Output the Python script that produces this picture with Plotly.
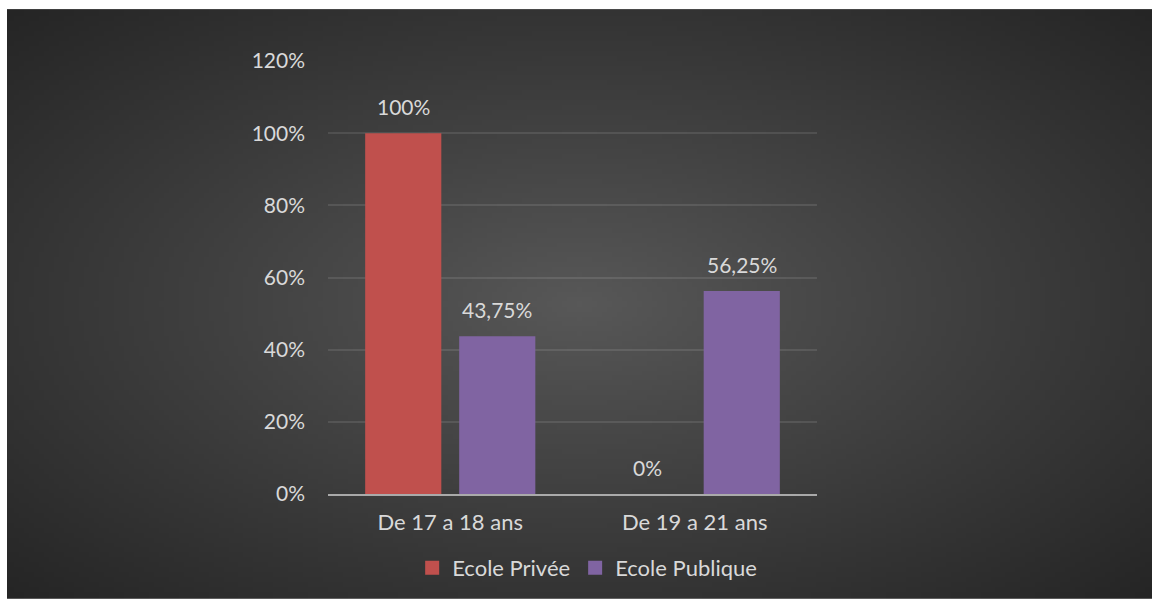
import base64
import math
import struct
import zlib

import plotly.graph_objects as go

# ---- data ----
categories = ["De 17 a 18 ans", "De 19 a 21 ans"]
series_names = ["Ecole Privée", "Ecole Publique"]
ecole_privee = [100, 0]
ecole_publique = [43.75, 56.25]
y_ticks = [0, 20, 40, 60, 80, 100, 120]

series_values = [ecole_privee, ecole_publique]
series_colors = ["#C0504D", "#8064A2"]

FONT = "Lato"
TEXT_COLOR = "#D9D9D9"

W, H = 1152, 600
ML, MR, MT, MB = 328, 335, 61, 105
PW, PH = W - ML - MR, H - MT - MB


def fmt_pct(v):
    return f"{v:g}".replace(".", ",") + "%"


def radial_png(w, h, c_in, c_out):
    """Small grayscale PNG with an elliptical radial gradient."""
    rows = []
    cx, cy = (w - 1) / 2, (h - 1) / 2
    for j in range(h):
        row = bytearray([0])
        dy = (j - cy) / cy
        for i in range(w):
            dx = (i - cx) / cx
            r = min(1.0, math.sqrt(dx * dx + dy * dy) / math.sqrt(2))
            t = r ** 0.95
            row.append(int(round(c_in + (c_out - c_in) * t)))
        rows.append(bytes(row))
    raw = b"".join(rows)

    def chunk(tag, data):
        c = struct.pack(">I", len(data)) + tag + data
        return c + struct.pack(">I", zlib.crc32(tag + data) & 0xFFFFFFFF)

    png = b"\x89PNG\r\n\x1a\n"
    png += chunk(b"IHDR", struct.pack(">IIBBBBB", w, h, 8, 0, 0, 0, 0))
    png += chunk(b"IDAT", zlib.compress(raw, 9))
    png += chunk(b"IEND", b"")
    return "data:image/png;base64," + base64.b64encode(png).decode()


fig = go.Figure()
for name, vals, col in zip(series_names, series_values, series_colors):
    fig.add_trace(go.Bar(
        name=name,
        x=categories,
        y=vals,
        marker=dict(color=col, line=dict(width=0)),
        legendgroup=name,
        showlegend=False,
    ))
    # legend entry with a larger square swatch
    fig.add_trace(go.Scatter(
        name=name,
        x=[None], y=[None],
        mode="markers",
        marker=dict(symbol="square", size=14, color=col),
        legendgroup=name,
        showlegend=True,
    ))

# value labels above each bar
slot_px = 94
for k, vals in enumerate(series_values):
    shift = (k - (len(series_values) - 1) / 2) * slot_px
    for cat, v in zip(categories, vals):
        fig.add_annotation(
            x=cat, y=v, xref="x", yref="y",
            text=fmt_pct(v), showarrow=False,
            xshift=shift, yshift=12, yanchor="bottom",
            font=dict(family=FONT, size=21, color=TEXT_COLOR),
        )

# chart-area background (white strip on top/left edge)
bg_x0, bg_y0 = 7, 9
fig.add_layout_image(
    source=radial_png(230, 120, 0x58, 0x25),
    xref="paper", yref="paper",
    x=(bg_x0 - ML) / PW,
    y=1 + (MT - bg_y0) / PH,
    sizex=(W - bg_x0) / PW,
    sizey=(H - bg_y0) / PH,
    xanchor="left", yanchor="top",
    sizing="stretch", layer="below",
)

fig.update_layout(
    width=W, height=H,
    margin=dict(l=ML, r=MR, t=MT, b=MB),
    paper_bgcolor="#FFFFFF",
    plot_bgcolor="rgba(0,0,0,0)",
    barmode="group",
    bargap=0.231,
    bargroupgap=0.19,
    font=dict(family=FONT, size=21, color=TEXT_COLOR),
    showlegend=True,
    legend=dict(
        orientation="h",
        x=0.53, y=-0.168, xanchor="center", yanchor="middle",
        font=dict(family=FONT, size=22, color=TEXT_COLOR),
        bgcolor="rgba(0,0,0,0)",
        traceorder="normal",
    ),
)

fig.update_xaxes(
    showgrid=False,
    showline=True, linecolor="rgba(217,217,217,0.7)", linewidth=2,
    ticks="", ticklabelstandoff=8,
    tickfont=dict(family=FONT, size=22, color=TEXT_COLOR),
)
fig.update_yaxes(
    range=[0, 120],
    tickvals=y_ticks,
    ticktext=[f"{t}%" for t in y_ticks],
    showgrid=True, gridcolor="rgba(255,255,255,0.1)", gridwidth=1.5,
    zeroline=False, showline=False, ticks="",
    ticklabelstandoff=22,
    tickfont=dict(family=FONT, size=21, color=TEXT_COLOR),
)

fig.write_html("out.html")
